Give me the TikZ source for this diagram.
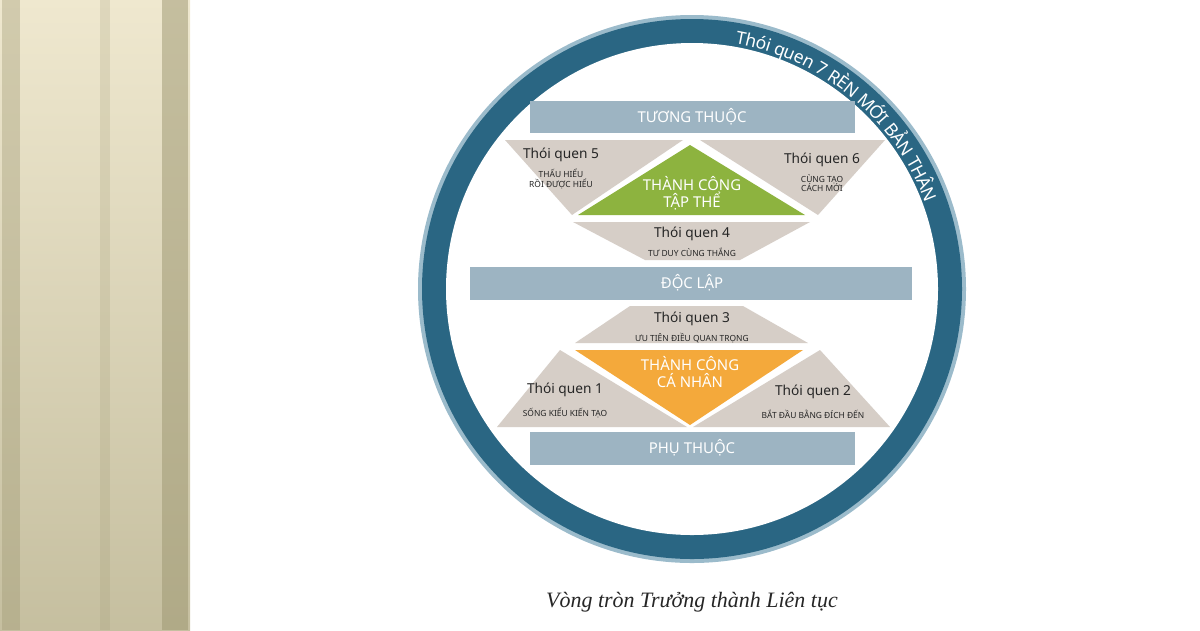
\documentclass[tikz,border=0pt]{standalone}
\usepackage{fontspec}
\setmainfont{Noto Sans}
\newfontfamily\captionfont{Liberation Serif}
\usetikzlibrary{decorations.text,positioning}
\definecolor{ringblue}{HTML}{2A6683}
\definecolor{ringedge}{HTML}{9BBBCB}
\definecolor{bandblue}{HTML}{9DB4C2}
\definecolor{habitgray}{HTML}{D6CEC7}
\definecolor{teamgreen}{HTML}{8DB33F}
\definecolor{selforange}{HTML}{F4A93B}
\definecolor{forestlight}{HTML}{EFE8CF}
\definecolor{forestdark}{HTML}{9C9670}
\tikzset{
  band/.style={fill=bandblue, draw=none},
  bandtext/.style={text=white, font=\fontsize{8.5}{9}\selectfont},
  habit/.style={fill=habitgray, draw=none},
  habittitle/.style={font=\fontsize{7.8}{9}\selectfont, text=black!85},
  habitsub/.style={font=\fontsize{4.8}{5.6}\selectfont, text=black!85, align=center},
  wintext/.style={text=white, font=\fontsize{8.5}{9.5}\selectfont, align=center}
}
\begin{document}
\begin{tikzpicture}[x=0.02cm,y=-0.02cm]
  \useasboundingbox (0,0) rectangle (1200,630);
  % forest strip
  \shade[top color=forestlight, bottom color=forestdark!50!forestlight] (0,0) rectangle (190,630);
  \fill[forestdark, opacity=.35] (2,0) rectangle (20,630);
  \fill[forestdark, opacity=.2] (100,0) rectangle (110,630);
  \fill[forestdark, opacity=.5] (162,0) rectangle (188,630);

  % ring
  \fill[ringedge] (692,289) circle (274);
  \fill[ringblue] (692,289) circle (270);
  \fill[white] (692,289) circle (246);

  % bands
  \fill[band] (530,101) rectangle (855,133);
  \fill[band] (470,267) rectangle (912,300);
  \fill[band] (530,432) rectangle (855,465);
  \node[bandtext] (tuongthuoc) at (692,117) {TƯƠNG THUỘC};
  \node[bandtext] (doclap) at (692,283) {ĐỘC LẬP};
  \node[bandtext] (phuthuoc) at (692,448) {PHỤ THUỘC};

  % upper half
  \fill[habit] (505,140) -- (683,140) -- (572,215) -- cycle;
  \fill[habit] (700,140) -- (885,140) -- (818,215) -- cycle;
  \fill[habit] (573,222) -- (810,222) -- (740,260) -- (645,260) -- cycle;
  \fill[teamgreen] (578,215) -- (805,215) -- (690,145) -- cycle;
  \node[habittitle] (tq5) at (561,155) {Thói quen 5};
  \node[habitsub, below=-3pt of tq5] (tq5sub) {THẤU HIỂU\\RỒI ĐƯỢC HIỂU};
  \node[habittitle] (tq6) at (822,160) {Thói quen 6};
  \node[habitsub, below=-3pt of tq6] (tq6sub) {CÙNG TẠO\\CÁCH MỚI};
  \node[habittitle] (tq4) at (692,234) {Thói quen 4};
  \node[habitsub, below=-3pt of tq4] (tq4sub) {TƯ DUY CÙNG THẮNG};
  \node[wintext] (taphe) at (692,193) {THÀNH CÔNG\\TẬP THỂ};

  % lower half
  \fill[habit] (630,306) -- (743,306) -- (808,343) -- (575,343) -- cycle;
  \fill[habit] (560,350) -- (687,427) -- (497,427) -- cycle;
  \fill[habit] (820,350) -- (890,427) -- (693,427) -- cycle;
  \fill[selforange] (575,350) -- (803,350) -- (690,425) -- cycle;
  \node[habittitle] (tq3) at (692,319) {Thói quen 3};
  \node[habitsub, below=-3pt of tq3] (tq3sub) {ƯU TIÊN ĐIỀU QUAN TRỌNG};
  \node[habittitle] (tq1) at (565,390) {Thói quen 1};
  \node[habitsub, below=-1pt of tq1] (tq1sub) {SỐNG KIỂU KIẾN TẠO};
  \node[habittitle] (tq2) at (813,392) {Thói quen 2};
  \node[habitsub, below=-1pt of tq2] (tq2sub) {BẮT ĐẦU BẰNG ĐÍCH ĐẾN};
  \node[wintext] (canhan) at (690,372) {THÀNH CÔNG\\CÁ NHÂN};

  % ring text
  \path[decorate, decoration={text along path, raise=-5pt,
      text={|\color{white}\fontsize{10}{10}\selectfont|Thói quen 7 RÈN MỚI BẢN THÂN}}]
    (692,289) ++(-80:258) arc[start angle=-80, end angle=-15, radius=258];

  \node[font=\captionfont\itshape\fontsize{12.5}{14}\selectfont, text=black!85] (caption) at (692,602) {Vòng tròn Trưởng thành Liên tục};
\end{tikzpicture}
\end{document}
